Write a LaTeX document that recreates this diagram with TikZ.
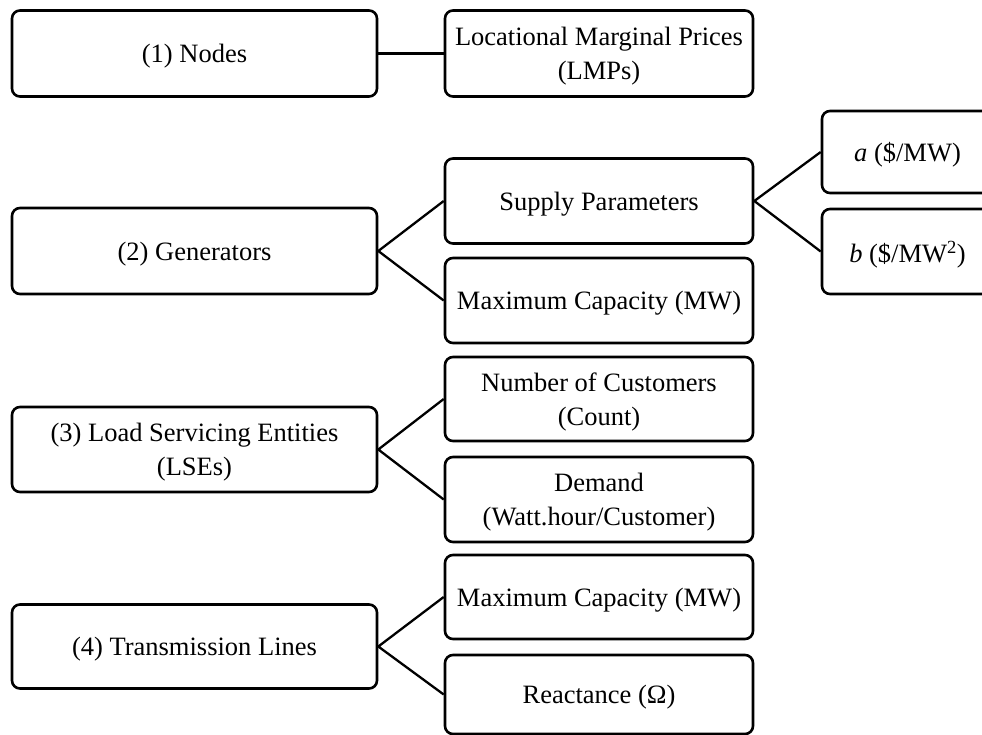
\documentclass[tikz,border=0pt]{standalone}
\usepackage{fontspec}
\setmainfont{Liberation Serif}
\begin{document}
\begin{tikzpicture}[x=1pt,y=-1pt,
  box/.style={draw, line width=2.6pt, rounded corners=8pt, align=center,
    inner sep=0pt, text depth=0pt, font=\fontsize{26.5}{33.5}\selectfont},
  mainbox/.style={box, minimum width=365pt},
  subbox/.style={box, minimum width=308pt},
  coefbox/.style={box, minimum width=171pt},
  link/.style={line width=2.3pt}]
\useasboundingbox (0,0) rectangle (982,735);

% categories (left column)
\node[mainbox, minimum height=86pt] (nodes) at (194.5,53.5) {(1) Nodes};
\node[mainbox, minimum height=86pt] (gen)   at (194.5,251) {(2) Generators};
\node[mainbox, minimum height=85pt] (lse)   at (194.5,449.5) {(3) Load Servicing Entities\\(LSEs)};
\node[mainbox, minimum height=84pt] (lines) at (194.5,646.5) {(4) Transmission Lines};

% attributes (middle column)
\node[subbox, minimum height=86pt] (lmp)     at (599,53.5) {Locational Marginal Prices\\(LMPs)};
\node[subbox, minimum height=85pt] (supply)  at (599,201) {Supply Parameters};
\node[subbox, minimum height=85pt] (gencap)  at (599,300.5) {Maximum Capacity (MW)};
\node[subbox, minimum height=84pt] (cust)    at (599,399) {Number of Customers\\(Count)};
\node[subbox, minimum height=85pt] (demand)  at (599,499.5) {Demand\\(Watt.hour/Customer)};
\node[subbox, minimum height=84pt] (linecap) at (599,597) {Maximum Capacity (MW)};
\node[subbox, minimum height=79pt] (react)   at (599,694.5) {Reactance (Ω)};

% supply coefficients (right column)
\node[coefbox, minimum height=82pt] (coefa) at (907.5,152) {\textit{a} (\$/MW)};
\node[coefbox, minimum height=85pt] (coefb) at (907.5,251.5) {\textit{b} (\$/MW\textsuperscript{2})};

% connectors
\draw[link] (nodes.east) -- (lmp.west);
\draw[link] (supply.west) -- (gen.east) -- (gencap.west);
\draw[link] (cust.west) -- (lse.east) -- (demand.west);
\draw[link] (linecap.west) -- (lines.east) -- (react.west);
\draw[link] (coefa.west) -- (supply.east) -- (coefb.west);
\end{tikzpicture}
\end{document}
